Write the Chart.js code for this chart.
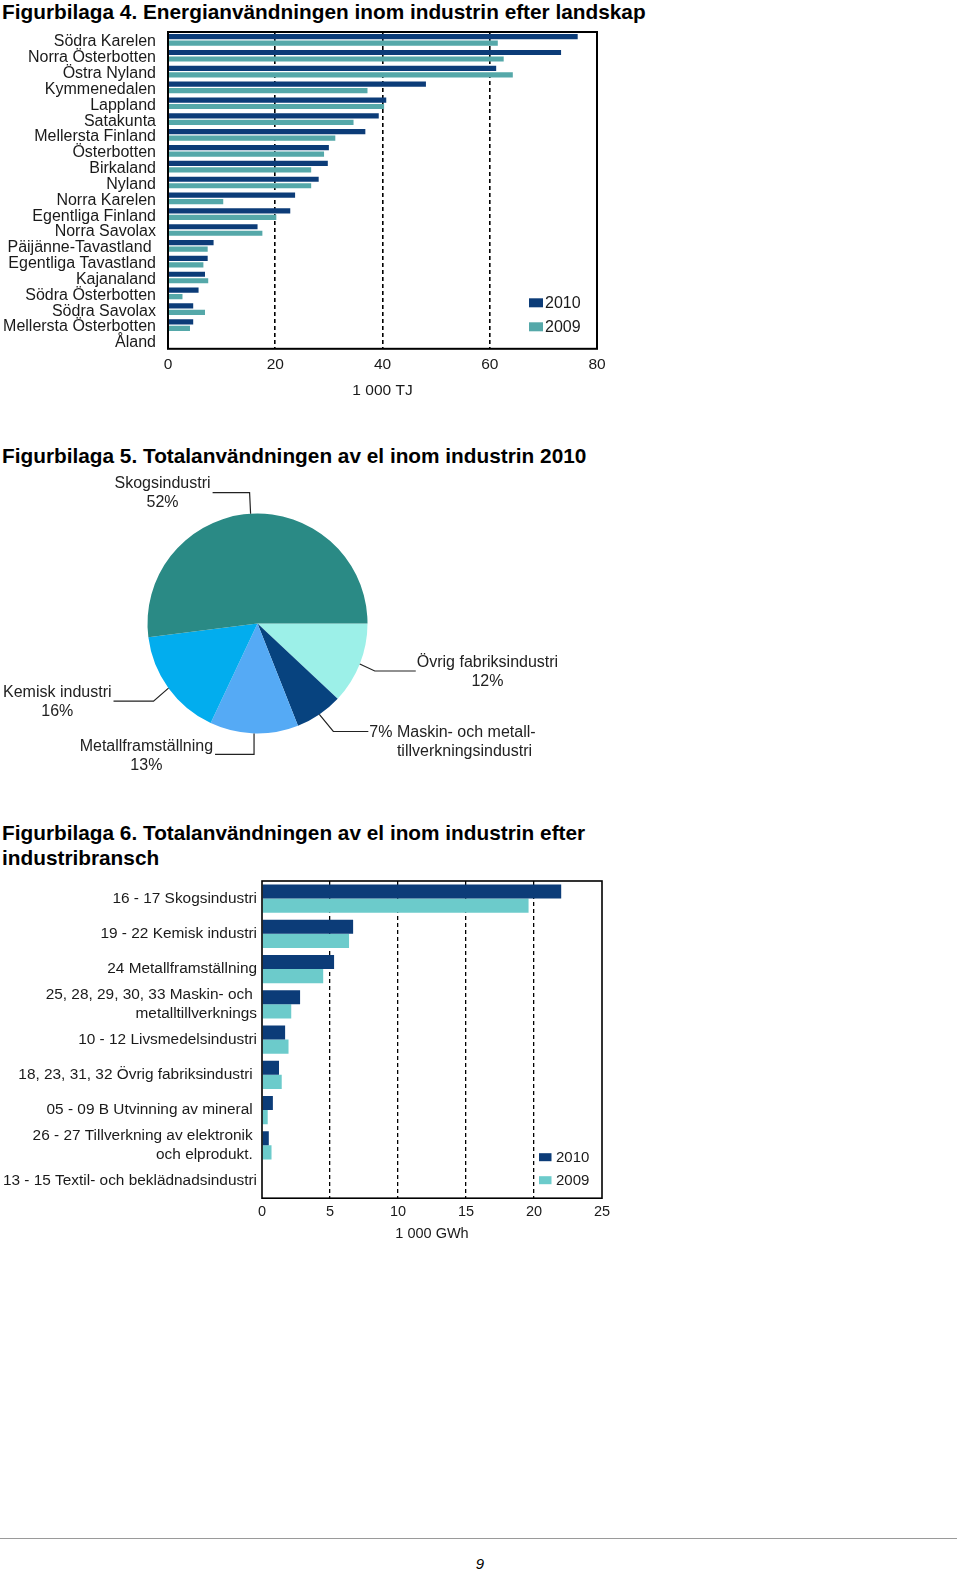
<!DOCTYPE html>
<html>
<head>
<meta charset="utf-8">
<script src="https://cdn.jsdelivr.net/npm/chart.js@4.4.1/dist/chart.umd.min.js"></script>
<style>
body{margin:0;background:#fff;width:960px;height:1572px;position:relative;overflow:hidden;font-family:"Liberation Sans",Arial,sans-serif;color:#000}
.t{position:absolute;left:2px;margin:0;font-weight:bold;font-size:20.8px;line-height:25px;white-space:nowrap}
.box{position:absolute}
#rule{position:absolute;left:0;top:1538px;width:957px;height:0;border-top:1px solid #9a9a9a}
#page{position:absolute;left:470px;top:1555px;width:20px;text-align:center;font-style:italic;font-size:15px}
</style>
</head>
<body>
<div class="t" style="top:-1px">Figurbilaga 4. Energianvändningen inom industrin efter landskap</div>
<div class="box" style="left:0;top:8px;width:615px;height:392px"><canvas id="energy"></canvas></div>

<div class="t" style="top:443px">Figurbilaga 5. Totalanvändningen av el inom industrin 2010</div>
<div class="box" style="left:0;top:470px;width:600px;height:310px"><canvas id="share"></canvas></div>

<div class="t" style="top:820px">Figurbilaga 6. Totalanvändningen av el inom industrin efter<br>industribransch</div>
<div class="box" style="left:0;top:861px;width:620px;height:382px"><canvas id="branch"></canvas></div>

<div id="rule"></div>
<div id="page">9</div>

<script>
// --- Figurbilaga 4: energy use by region, 1 000 TJ
var regions = ['Södra Karelen', 'Norra Österbotten', 'Östra Nyland', 'Kymmenedalen', 'Lappland',
  'Satakunta', 'Mellersta Finland', 'Österbotten', 'Birkaland', 'Nyland', 'Norra Karelen',
  'Egentliga Finland', 'Norra Savolax', 'Päijänne-Tavastland ', 'Egentliga Tavastland',
  'Kajanaland', 'Södra Österbotten', 'Södra Savolax', 'Mellersta Österbotten', 'Åland'];
var energy2010 = [76.4, 73.3, 61.2, 48.1, 40.7, 39.3, 36.8, 30.0, 29.8, 28.1, 23.7, 22.8, 16.7, 8.5, 7.4, 6.9, 5.7, 4.7, 4.7, 0];
var energy2009 = [61.5, 62.6, 64.3, 37.2, 40.3, 34.6, 31.2, 29.1, 26.7, 26.7, 10.3, 20.2, 17.6, 7.4, 6.6, 7.5, 2.7, 6.9, 4.1, 0];
var energyTicks = [0, 20, 40, 60, 80];

// --- Figurbilaga 5: share of electricity use 2010, %
var sectors = ['Övrig fabriksindustri', 'Maskin- och metalltillverkningsindustri', 'Metallframställning', 'Kemisk industri', 'Skogsindustri'];
var sectorShares = [12, 7, 13, 16, 52];
var sectorText = [['Övrig fabriksindustri'], ['Maskin- och metall-', 'tillverkningsindustri'], ['Metallframställning'], ['Kemisk industri'], ['Skogsindustri']];

// --- Figurbilaga 6: electricity use by branch, 1 000 GWh
var branches = ['16 - 17 Skogsindustri', '19 - 22 Kemisk industri', '24 Metallframställning',
  ['25, 28, 29, 30, 33 Maskin- och ', 'metalltillverknings'], '10 - 12 Livsmedelsindustri',
  '18, 23, 31, 32 Övrig fabriksindustri ', '05 - 09 B Utvinning av mineral ',
  ['26 - 27 Tillverkning av elektronik ', 'och elprodukt. '], '13 - 15 Textil- och beklädnadsindustri'];
var el2010 = [22.0, 6.7, 5.3, 2.8, 1.7, 1.25, 0.8, 0.5, 0];
var el2009 = [19.6, 6.4, 4.5, 2.15, 1.95, 1.45, 0.42, 0.7, 0];
var elTicks = [0, 5, 10, 15, 20, 25];

var FONT = '"Liberation Sans", Arial, sans-serif';
var INK = '#1a1a1a';
Chart.defaults.font.family = FONT;
Chart.defaults.color = INK;
Chart.defaults.animation = false;
Chart.defaults.plugins.legend.display = false;
Chart.defaults.plugins.tooltip.enabled = false;

// box round the plot area
var frame = {
  id: 'frame',
  afterDatasetsDraw: function(chart, args, o) {
    var a = chart.chartArea, ctx = chart.ctx;
    ctx.save();
    ctx.lineWidth = o.width;
    ctx.strokeStyle = '#000';
    ctx.strokeRect(a.left, a.top, a.right - a.left, a.bottom - a.top);
    ctx.restore();
  }
};

// legend drawn inside the plot, bottom right
var boxLegend = {
  id: 'boxLegend',
  afterDraw: function(chart, args, o) {
    var a = chart.chartArea, ctx = chart.ctx;
    ctx.save();
    ctx.font = o.font;
    ctx.textBaseline = 'middle';
    ctx.textAlign = 'left';
    chart.data.datasets.forEach(function(ds, i) {
      var cy = a.bottom - o.rows[i];
      ctx.fillStyle = ds.backgroundColor;
      ctx.fillRect(a.right - o.boxLeft, cy - o.boxH / 2, o.boxW, o.boxH);
      ctx.fillStyle = INK;
      ctx.fillText(ds.label, a.right - o.textLeft, cy + 1);
    });
    ctx.restore();
  }
};

function barChart(id, labels, d10, d09, ticks, s) {
  var max = ticks[ticks.length - 1];
  return new Chart(document.getElementById(id), {
    type: 'bar',
    data: {
      labels: labels,
      datasets: [
        {label: '2010', data: d10, backgroundColor: s.c10},
        {label: '2009', data: d09, backgroundColor: s.c09}
      ]
    },
    options: {
      indexAxis: 'y',
      responsive: true,
      maintainAspectRatio: false,
      layout: {padding: {top: s.padTop, right: 18, left: 0, bottom: 0}},
      categoryPercentage: s.cat,
      barPercentage: s.bar,
      scales: {
        x: {
          min: 0, max: max,
          ticks: {stepSize: ticks[1] - ticks[0], font: {size: s.tickSize}, padding: s.tickPad, color: INK},
          grid: {
            drawTicks: false,
            lineWidth: s.gridWidth,
            color: function(c) { return c.tick && c.tick.value > 0 && c.tick.value < max ? '#000' : 'rgba(0,0,0,0)'; }
          },
          border: {display: false, dash: [4, 3]},
          title: {display: true, text: s.unit, font: {size: s.tickSize}, color: INK, padding: {top: 0, bottom: 0}}
        },
        y: {
          grid: {display: false, drawTicks: false},
          border: {display: false},
          ticks: {autoSkip: false, font: {size: s.labelSize, lineHeight: 1.2}, padding: s.labelPad, labelOffset: s.labelShift, color: INK},
          afterFit: function(sc) { sc.width = s.axisX; }
        }
      },
      plugins: {
        frame: {width: s.frameWidth},
        boxLegend: s.legend
      }
    },
    plugins: [frame, boxLegend]
  });
}

barChart('energy', regions, energy2010, energy2009, energyTicks, {
  c10: '#0c3c78', c09: '#55a8a9', padTop: 24, cat: 0.82, bar: 0.8,
  tickSize: 15.5, tickPad: 7, gridWidth: 1.6, unit: '1 000 TJ',
  labelSize: 16, labelPad: 12, labelShift: 2, axisX: 168, frameWidth: 2,
  legend: {font: '16px ' + FONT, rows: [46, 22], boxLeft: 68, boxW: 14, boxH: 9, textLeft: 52}
});

barChart('branch', branches, el2010, el2009, elTicks, {
  c10: '#0c3c78', c09: '#6ccbcb', padTop: 20, cat: 0.8, bar: 1.0,
  tickSize: 14.5, tickPad: 5, gridWidth: 1.3, unit: '1 000 GWh',
  labelSize: 15.4, labelPad: 5, labelShift: 0, axisX: 262, frameWidth: 1.6,
  legend: {font: '15px ' + FONT, rows: [41, 18], boxLeft: 63, boxW: 12.5, boxH: 8, textLeft: 46}
});

// leader lines for the pie: elbow offset from slice edge, then a horizontal run
var pieLayout = [
  {dx: 15, dy: 7, len: 41, ty: -8},
  {dx: 14, dy: 17, len: 35, ty: 1, prefix: true},
  {dx: 0, dy: 21, len: -39, ty: -8},
  {dx: -15, dy: 13, len: -40, ty: -9},
  {dx: -1, dy: -21, len: -37, ty: -9}
];

var pieLabels = {
  id: 'pieLabels',
  afterDatasetsDraw: function(chart) {
    var ctx = chart.ctx;
    var meta = chart.getDatasetMeta(0);
    var data = chart.data.datasets[0].data;
    var total = data.reduce(function(a, b) { return a + b; }, 0);
    ctx.save();
    ctx.font = '16px ' + FONT;
    ctx.fillStyle = '#222';
    ctx.strokeStyle = '#222';
    ctx.lineWidth = 1.2;
    ctx.textBaseline = 'middle';
    meta.data.forEach(function(arc, i) {
      var p = arc.getProps(['x', 'y', 'startAngle', 'endAngle', 'outerRadius'], true);
      var mid = (p.startAngle + p.endAngle) / 2;
      var ax = p.x + p.outerRadius * Math.cos(mid), ay = p.y + p.outerRadius * Math.sin(mid);
      var L = pieLayout[i];
      var ex = ax + L.dx, ey = ay + L.dy, fx = ex + L.len;
      ctx.beginPath();
      ctx.moveTo(ax, ay);
      ctx.lineTo(ex, ey);
      ctx.lineTo(fx, ey);
      ctx.stroke();
      var pct = Math.round(data[i] / total * 100) + '%';
      var lines = sectorText[i];
      if (L.prefix) {
        ctx.textAlign = 'left';
        var pre = pct + ' ';
        ctx.fillText(pre + lines[0], fx + 1, ey + L.ty);
        ctx.fillText(lines[1], fx + 1 + ctx.measureText(pre).width, ey + L.ty + 19);
      } else {
        var all = [lines[0], pct];
        var bw = Math.max.apply(null, all.map(function(t) { return ctx.measureText(t).width; }));
        var cx = L.len < 0 ? fx - 2 - bw / 2 : fx + 1 + bw / 2;
        ctx.textAlign = 'center';
        all.forEach(function(t, k) { ctx.fillText(t, cx, ey + L.ty + k * 19); });
      }
    });
    ctx.restore();
  }
};

new Chart(document.getElementById('share'), {
  type: 'pie',
  data: {
    labels: sectors,
    datasets: [{
      data: sectorShares,
      backgroundColor: ['#9cf0e8', '#07437f', '#55aaf5', '#02adee', '#2a8a85'],
      borderWidth: 0
    }]
  },
  options: {
    responsive: true,
    maintainAspectRatio: false,
    rotation: 90,
    layout: {padding: {left: 147.5, right: 232.5, top: 43.5, bottom: 46.5}}
  },
  plugins: [pieLabels]
});
</script>
</body>
</html>
